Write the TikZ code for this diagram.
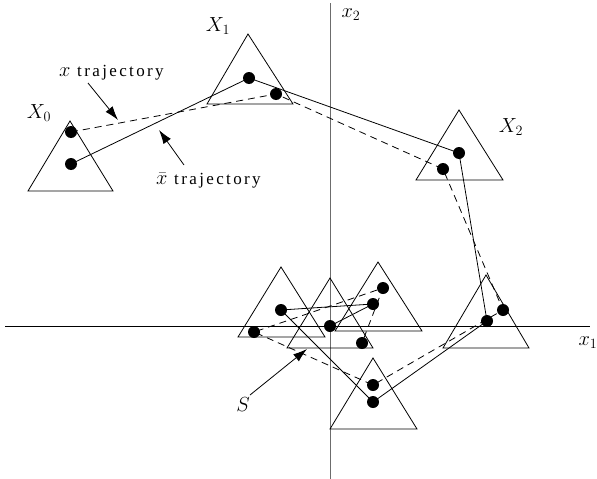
\documentclass[tikz,border=0pt]{standalone}
\usepackage{fontspec}
\newfontfamily\lblfont[LetterSpace=14]{Liberation Serif}
\usetikzlibrary{arrows.meta}
\newcommand{\biglbl}[1]{\scalebox{1.18}{#1}}
\begin{document}
\begin{tikzpicture}[x=1pt,y=-1pt,
  tri/.style={line width=0.8pt},
  dot/.style={circle,fill=black,inner sep=0pt,minimum size=12pt},
  soltraj/.style={line width=0.8pt},
  dashtraj/.style={line width=0.8pt,dash pattern=on 7pt off 5pt},
  axis/.style={line width=1pt},
  lbl/.style={font=\LARGE,inner sep=0pt},
  tlbl/.style={font=\fontsize{17}{20}\selectfont\lblfont,inner sep=0pt},
  ptr/.style={line width=0.8pt,-{Latex[length=14pt,width=9pt]}}]
\useasboundingbox (0,0) rectangle (597,479);
% axes
\draw[axis,gray!85!black] (330,3) -- (330,479);
\draw[axis] (5,326) -- (590,326);
\node[lbl] (lx2) at (351,15) {\biglbl{$x_2$}};
\node[lbl] (lx1) at (588,343) {\biglbl{$x_1$}};
% triangles
\draw[tri] (70,121) -- (28,191) -- (113,191) -- cycle;
\draw[tri] (248,34) -- (207,104) -- (293,104) -- cycle;
\draw[tri] (459,110) -- (416,180) -- (503,180) -- cycle;
\draw[tri] (486,275) -- (443,348) -- (529,348) -- cycle;
\draw[tri] (373,358) -- (330,429) -- (417,429) -- cycle;
\draw[tri] (281,267) -- (238,337) -- (325,337) -- cycle;
\draw[tri] (330,278) -- (287,348) -- (373,348) -- cycle;
\draw[tri] (378,262) -- (335,331) -- (422,331) -- cycle;
% dots
\node[dot] (s0) at (71,164) {};
\node[dot] (d0) at (71,132) {};
\node[dot] (s1) at (249,78) {};
\node[dot] (d1) at (276,94) {};
\node[dot] (s2) at (459,153) {};
\node[dot] (d2) at (443,169) {};
\node[dot] (s3) at (487,321) {};
\node[dot] (d3) at (503,310) {};
\node[dot] (d4) at (373,385) {};
\node[dot] (s4) at (373,402) {};
\node[dot] (s5) at (281,310) {};
\node[dot] (d5) at (254,332) {};
\node[dot] (s7) at (330,326) {};
\node[dot] (s6) at (373,304) {};
\node[dot] (d6) at (383,288) {};
\node[dot] (d7) at (362,343) {};
% trajectories
\draw[soltraj] (s0.center) -- (s1.center) -- (s2.center) -- (s3.center) -- (s4.center) -- (s5.center) -- (s6.center) -- (s7.center);
\draw[dashtraj] (d0.center) -- (d1.center) -- (d2.center) -- (d3.center) -- (d4.center) -- (d5.center) -- (d6.center) -- (d7.center);
% labels
\node[lbl] (lX0) at (39,113) {\biglbl{$X_0$}};
\node[lbl] (lX1) at (218,26) {\biglbl{$X_1$}};
\node[lbl] (lX2) at (511,127) {\biglbl{$X_2$}};
\node[tlbl,anchor=west] (lxt) at (59,73) {\biglbl{$x$} trajectory};
\node[tlbl,anchor=west] (lxb) at (156,181) {\biglbl{$\bar{x}$} trajectory};
\node[lbl] (lS) at (243,405) {\biglbl{$S$}};
\coordinate (axt) at (118,120);
\coordinate (axb) at (159,130);
\coordinate (aS) at (307,349);
\draw[ptr] (88,83) -- (axt);
\draw[ptr] (184,165) -- (axb);
\draw[ptr] (250,395) -- (aS);
\end{tikzpicture}
\end{document}
